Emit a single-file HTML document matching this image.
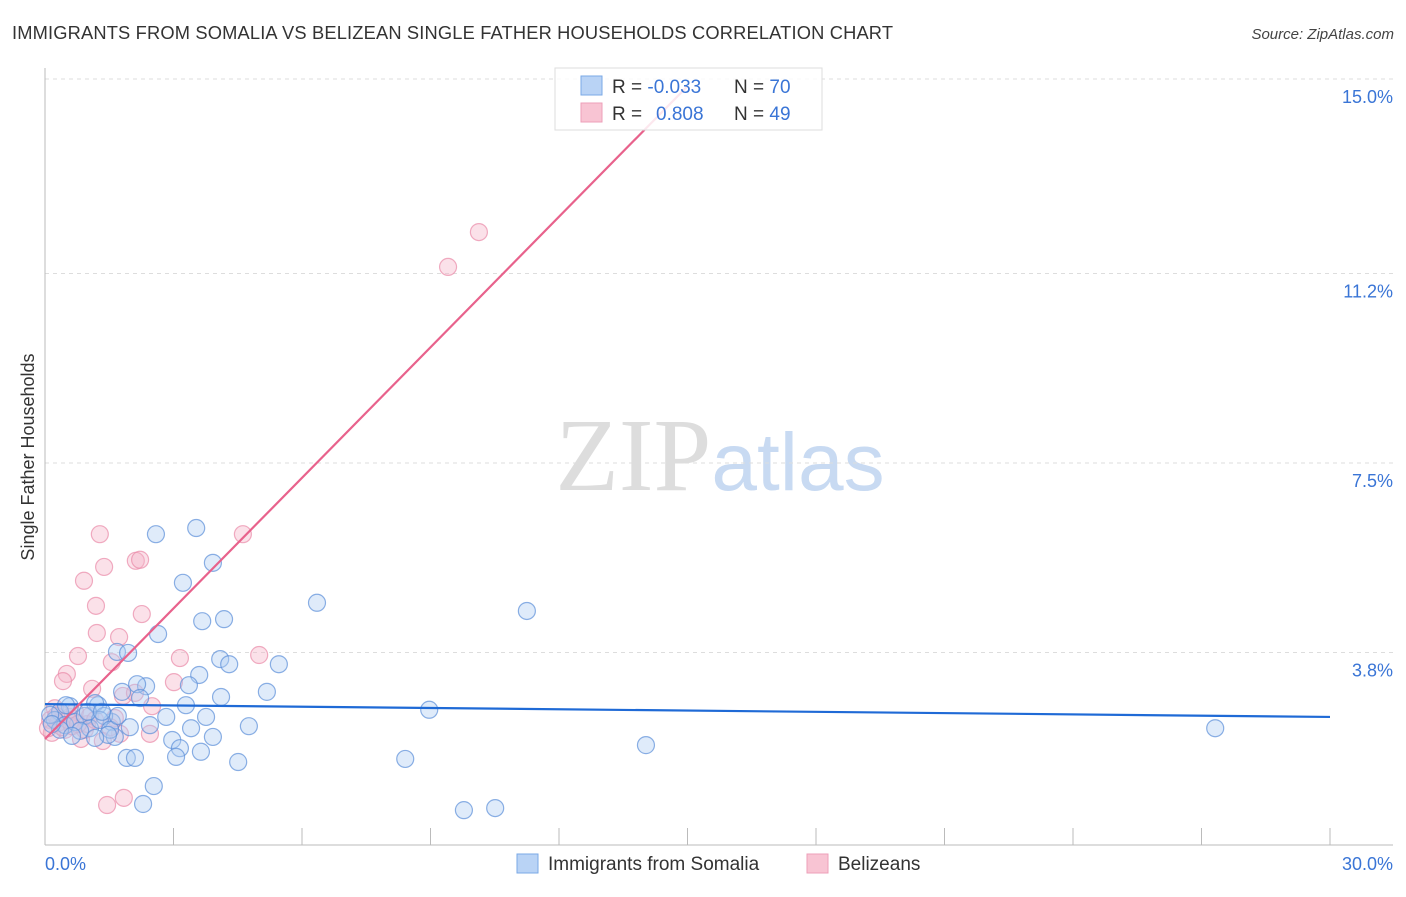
<!DOCTYPE html>
<html><head><meta charset="utf-8"><style>
body{margin:0;background:#fff;font-family:"Liberation Sans",sans-serif}
svg text{font-family:"Liberation Sans",sans-serif}
</style></head><body>
<svg id="chart" width="1406" height="892" xmlns="http://www.w3.org/2000/svg">
<text x="12" y="39" font-size="18.3" fill="#333" textLength="881">IMMIGRANTS FROM SOMALIA VS BELIZEAN SINGLE FATHER HOUSEHOLDS CORRELATION CHART</text>
<text x="1394" y="39" font-size="15" fill="#444" text-anchor="end" font-style="italic">Source: ZipAtlas.com</text>
<text x="720" y="490" font-size="104" text-anchor="middle"><tspan fill="#ddd" font-family="Liberation Serif">ZIP</tspan><tspan fill="#c8daf2" font-size="82">atlas</tspan></text>
<g id="grid"></g><g id="axes"></g><g id="pts"></g><g id="lines"></g>
<text transform="translate(34,457) rotate(-90)" font-size="18" fill="#333" text-anchor="middle">Single Father Households</text>
<g>
<rect x="555" y="68" width="267" height="62" fill="#fff" fill-opacity="0.85" stroke="#ddd"/>
<rect x="581" y="76" width="21" height="19" fill="#b9d3f5" stroke="#7aa8e6"/>
<rect x="581" y="103" width="21" height="19" fill="#f8c4d3" stroke="#ee9fb8"/>
<text x="612" y="93" font-size="19" fill="#333">R = <tspan fill="#3a75d6">-0.033</tspan></text>
<text x="734" y="93" font-size="19" fill="#333">N = <tspan fill="#3a75d6">70</tspan></text>
<text x="612" y="120" font-size="19" fill="#333">R = <tspan fill="#3a75d6" x="656">0.808</tspan></text>
<text x="734" y="120" font-size="19" fill="#333">N = <tspan fill="#3a75d6">49</tspan></text>
</g>
<g>
<rect x="517" y="854" width="21" height="19" fill="#b9d3f5" stroke="#7aa8e6"/>
<text x="548" y="870" font-size="19" fill="#333">Immigrants from Somalia</text>
<rect x="807" y="854" width="21" height="19" fill="#f8c4d3" stroke="#ee9fb8"/>
<text x="838" y="870" font-size="19" fill="#333">Belizeans</text>
</g>
</svg>
<script>
const yTicks=[3.8,7.5,11.2,15.0];
const yTickLabels=["3.8%","7.5%","11.2%","15.0%"];
const xTickLabels=["0.0%","30.0%"];
const somaliaX=[2.59,3.53,3.92,3.22,3.67,4.18,6.35,11.25,2.64,1.68,1.94,4.09,4.30,5.46,3.60,3.36,2.36,2.15,1.80,2.22,4.11,5.18,3.29,1.24,1.17,3.76,2.83,2.45,3.41,4.76,2.97,3.92,3.15,3.06,3.64,1.91,2.10,4.51,8.41,8.97,14.03,27.32,2.54,2.29,9.78,10.51,1.56,1.63,1.38,0.58,0.35,0.23,0.47,0.70,0.93,1.05,0.12,0.35,0.82,0.63,1.28,1.52,1.70,1.98,1.47,1.17,0.49,0.16,1.00,1.33];
const somaliaY=[6.11,6.23,5.55,5.16,4.41,4.45,4.77,4.61,4.16,3.81,3.79,3.67,3.57,3.57,3.36,3.16,3.14,3.18,3.03,2.91,2.93,3.03,2.77,2.77,2.81,2.54,2.54,2.38,2.32,2.36,2.09,2.15,1.93,1.76,1.86,1.74,1.74,1.66,1.72,2.68,1.99,2.32,1.19,0.84,0.72,0.76,2.44,2.15,2.56,2.75,2.64,2.48,2.38,2.44,2.56,2.32,2.58,2.29,2.27,2.17,2.48,2.29,2.56,2.34,2.19,2.13,2.77,2.40,2.64,2.64];
const belizeX=[1.28,4.62,2.12,2.22,1.38,0.91,1.19,2.26,1.73,1.21,0.77,3.15,1.56,5.00,0.51,0.42,1.10,3.01,1.82,2.10,2.50,9.41,10.13,1.45,1.84,2.45,1.35,0.84,1.63,0.98,0.35,0.12,0.23,0.58,0.47,0.16,0.70,1.05,0.30,0.40,0.63,0.07,0.93,1.17,1.75,1.52,0.54,0.26,0.77];
const belizeY=[6.11,6.11,5.59,5.61,5.47,5.20,4.71,4.55,4.10,4.18,3.73,3.69,3.61,3.75,3.38,3.24,3.09,3.22,2.95,3.01,2.75,11.33,12.01,0.82,0.96,2.21,2.07,2.11,2.52,2.40,2.60,2.48,2.71,2.54,2.29,2.23,2.64,2.56,2.42,2.34,2.36,2.32,2.29,2.48,2.21,2.34,2.48,2.56,2.40];
const somaliaTrend=[2.79,2.54];
const belizeTrend=[2.11,14.86];
const NS="http://www.w3.org/2000/svg";
const X=v=>45+v*(1285/30), Y=v=>847-v*51.2;
function mk(t,a,p){const e=document.createElementNS(NS,t);for(const k in a)e.setAttribute(k,a[k]);document.getElementById(p).appendChild(e);return e;}
yTicks.forEach((t,i)=>{
 const l=mk('line',{x1:45,x2:1393,y1:Y(t),y2:Y(t),stroke:'#ddd','stroke-dasharray':'4,4'},'grid');
 
 
 const tx=mk('text',{x:1393,y:Y(t)+24,'font-size':18,fill:'#3a75d6','text-anchor':'end'},'grid');tx.textContent=yTickLabels[i];
 
 
});
const ax=mk('line',{x1:45,x2:45,y1:68,y2:845,stroke:'#bbb'},'axes');


const bx=mk('line',{x1:45,x2:1393,y1:845,y2:845,stroke:'#bbb'},'axes');


for(let k=1;k<=10;k++){const t=mk('line',{x1:X(k*3),x2:X(k*3),y1:828,y2:845,stroke:'#bbb'},'axes');
 
 }
[[0,'start',45],[30,'end',1393]].forEach((d,i)=>{const t=mk('text',{x:d[2],y:870,'font-size':18,fill:'#3a75d6','text-anchor':d[1]},'axes');t.textContent=xTickLabels[i];
 
 });
function pts(xs,ys,fill,stroke,name){xs.forEach((x,i)=>{const c=mk('circle',{cx:X(x),cy:Y(ys[i]),r:8.5,fill:fill,'fill-opacity':0.4,stroke:stroke,'stroke-opacity':0.7,'stroke-width':1.2},'pts');
 
 });}
pts(belizeX,belizeY,'#f4b4c8','#e98aa8','belizean-point');
pts(somaliaX,somaliaY,'#b0ccf2','#5b8fd9','somalia-point');
const sl=mk('line',{x1:X(0),y1:Y(somaliaTrend[0]),x2:X(30),y2:Y(somaliaTrend[1]),stroke:'#1f6ad6','stroke-width':2.2},'lines');


const bl=mk('line',{x1:X(0),y1:Y(belizeTrend[0]),x2:X(15),y2:Y(belizeTrend[1]),stroke:'#e8628c','stroke-width':2.2},'lines');


</script>
</body></html>
